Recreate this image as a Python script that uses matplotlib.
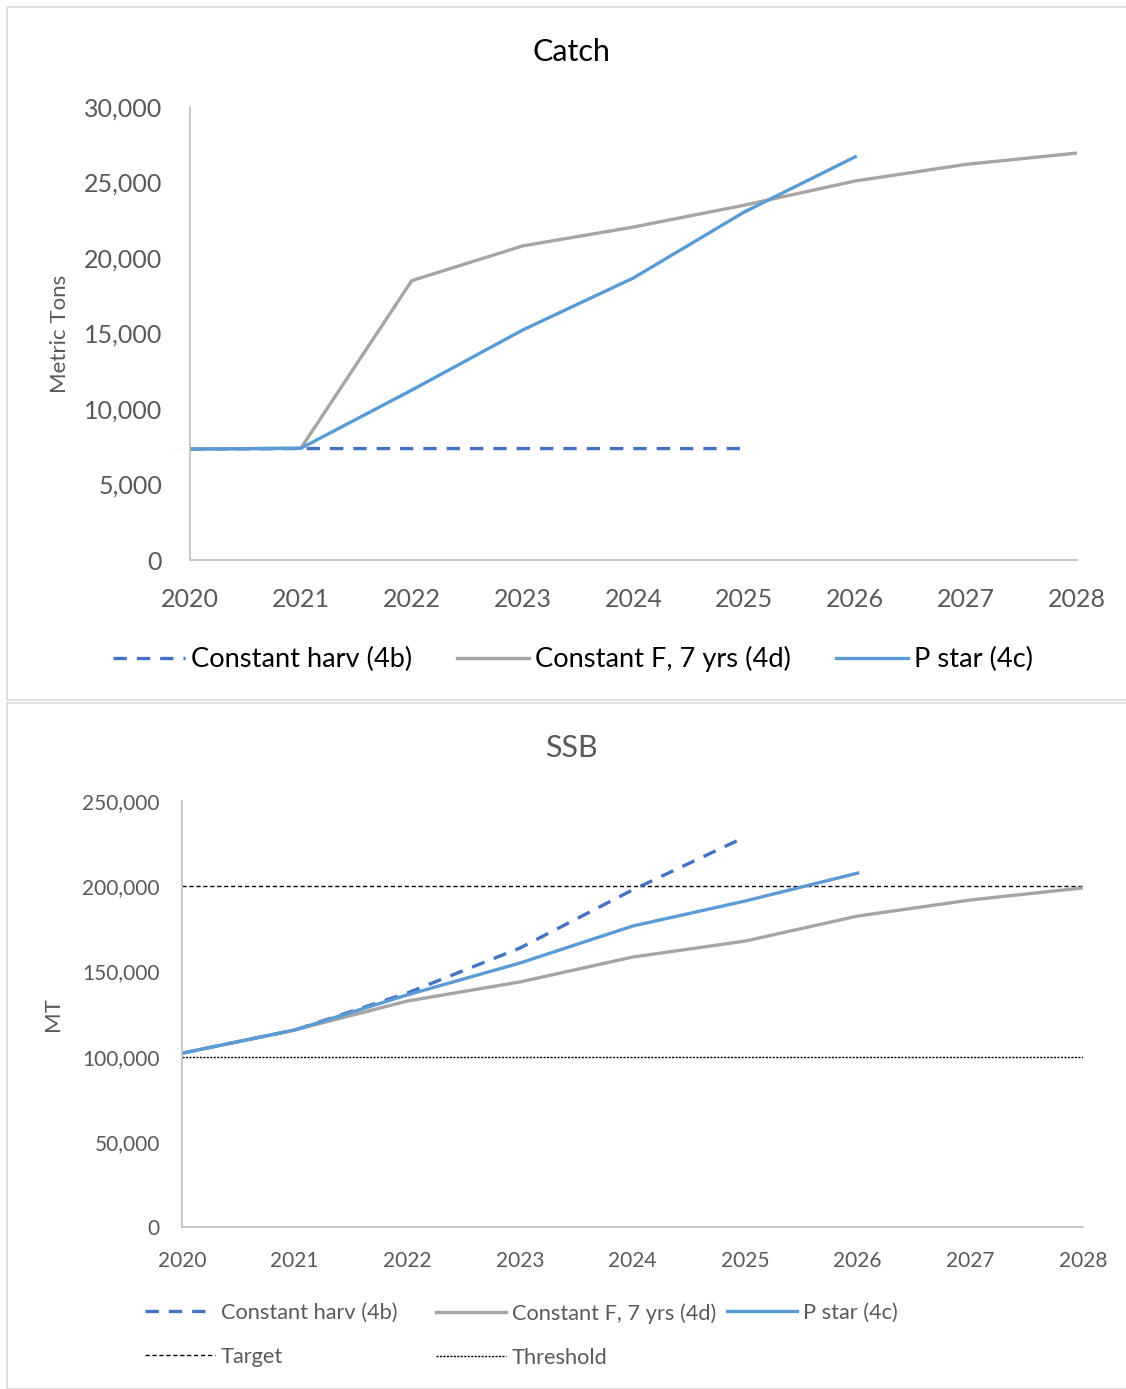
import matplotlib.pyplot as plt
from matplotlib.patches import Rectangle
from matplotlib.ticker import FuncFormatter

plt.rcParams['font.family'] = ['Lato', 'DejaVu Sans']

# data
years = [2020, 2021, 2022, 2023, 2024, 2025, 2026, 2027, 2028]

catch_harv = [7350, 7380, 7380, 7380, 7380, 7380]
catch_constF = [7350, 7400, 18500, 20800, 22050, 23500, 25100, 26200, 26950]
catch_pstar = [7350, 7400, 11250, 15230, 18680, 23050, 26700]

ssb_harv = [102000, 115600, 137300, 163700, 197800, 228900]
ssb_constF = [102000, 115600, 132600, 143800, 158400, 167800, 182500, 191900, 199000]
ssb_pstar = [102000, 115600, 136200, 154900, 176600, 191300, 207700]

target = 200000
threshold = 100000

c_harv = '#4472C4'
c_constF = '#A5A5A5'
c_pstar = '#5B9BD5'
grey_txt = '#595959'
lw = 2.4
dash = (0, (4, 3))

W, H = 1126, 1389
fig = plt.figure(figsize=(W / 100, H / 100), dpi=100)

# panel borders
for y0, h in [(7, 693), (703, 686)]:
    fig.patches.append(Rectangle((7 / W, 1 - (y0 + h) / H), 1.2, h / H,
                                 transform=fig.transFigure, fill=False,
                                 edgecolor='#D9D9D9', lw=1.2))

fmt = FuncFormatter(lambda v, p: f'{v:,.0f}')


def style(ax, fs, pad_y, pad_x):
    for s in ['top', 'right']:
        ax.spines[s].set_visible(False)
    for s in ['left', 'bottom']:
        ax.spines[s].set_color('#BFBFBF')
        ax.spines[s].set_linewidth(1.2)
    ax.tick_params(axis='y', length=0, labelsize=fs, labelcolor=grey_txt, pad=pad_y)
    ax.tick_params(axis='x', length=0, labelsize=fs, labelcolor=grey_txt, pad=pad_x)
    ax.yaxis.set_major_formatter(fmt)
    ax.set_xlim(2020, 2028)
    ax.set_xticks(years)


# ---- Catch ----
ax1 = fig.add_axes([190 / W, 1 - 560 / H, 887 / W, 453 / H])
ax1.plot(years[:len(catch_harv)], catch_harv, color=c_harv, lw=lw, ls=dash,
         label='Constant harv (4b)')
ax1.plot(years, catch_constF, color=c_constF, lw=lw, label='Constant F, 7 yrs (4d)')
ax1.plot(years[:len(catch_pstar)], catch_pstar, color=c_pstar, lw=lw, label='P star (4c)')
ax1.set_ylim(0, 30000)
ax1.set_yticks(range(0, 30001, 5000))
style(ax1, 18, 20, 20)
ax1.set_ylabel('Metric Tons', fontsize=16, color=grey_txt, labelpad=10)
fig.text(571 / W, 1 - 52 / H, 'Catch', fontsize=22, color='black', ha='center', va='center')
leg1 = fig.legend(*ax1.get_legend_handles_labels(), loc='center left',
                  bbox_to_anchor=(113 / W, 1 - 659 / H), ncol=3, frameon=False,
                  fontsize=19.6, handlelength=2.65, handletextpad=0.22, columnspacing=1.65,
                  borderpad=0, borderaxespad=0)
for t in leg1.get_texts():
    t.set_color('black')

# ---- SSB ----
ax2 = fig.add_axes([182 / W, 1 - 1227 / H, 901 / W, 426 / H])
h_harv, = ax2.plot(years[:len(ssb_harv)], ssb_harv, color=c_harv, lw=lw, ls=dash,
                   label='Constant harv (4b)')
h_f, = ax2.plot(years, ssb_constF, color=c_constF, lw=lw, label='Constant F, 7 yrs (4d)')
h_p, = ax2.plot(years[:len(ssb_pstar)], ssb_pstar, color=c_pstar, lw=lw, label='P star (4c)')
h_t = ax2.axhline(target, color='black', lw=1.0, ls=(0, (3, 2)), label='Target', zorder=1)
h_th = ax2.axhline(threshold, color='black', lw=1.0, ls=(0, (1.5, 1)), label='Threshold', zorder=1)
ax2.set_ylim(0, 250000)
ax2.set_yticks(range(0, 250001, 50000))
style(ax2, 15, 16, 17)
ax2.set_ylabel('MT', fontsize=16, color=grey_txt, labelpad=14)
fig.text(571 / W, 1 - 748 / H, 'SSB', fontsize=22, color=grey_txt, ha='center', va='center')

# legend laid out in three fixed columns
cols = [(145, [h_harv, h_t], ['Constant harv (4b)', 'Target']),
        (436, [h_f, h_th], ['Constant F, 7 yrs (4d)', 'Threshold']),
        (727, [h_p], ['P star (4c)'])]
for x0, hs, ls in cols:
    lg = fig.legend(hs, ls, loc='upper left', bbox_to_anchor=(x0 / W, 1 - 1303 / H),
                    frameon=False, fontsize=15.7, handlelength=3.2, handletextpad=0.27,
                    labelspacing=1.1, borderpad=0, borderaxespad=0)
    for t in lg.get_texts():
        t.set_color(grey_txt)

fig.savefig('out.png', dpi=100)
